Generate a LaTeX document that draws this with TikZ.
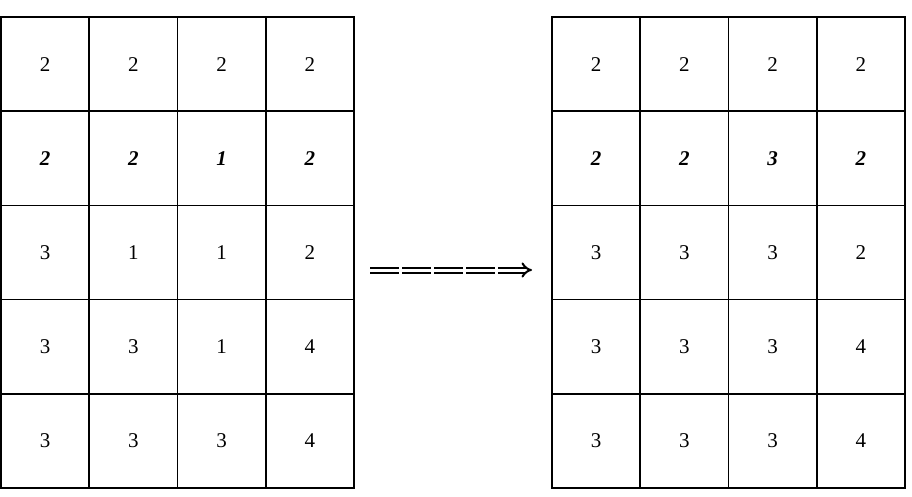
\documentclass[tikz,border=0pt]{standalone}
\usepackage{fontspec}
\setmainfont{Liberation Serif}
\usetikzlibrary{arrows.meta}
\begin{document}
\begin{tikzpicture}[x=1pt,y=-1pt,
  cell/.style={draw=black, line width=1.7pt, minimum width=88.25pt, minimum height=94.2pt,
    inner sep=0pt, font=\fontsize{21}{24}\selectfont, anchor=center},
  emrow/.style={font=\fontsize{21}{24}\selectfont\bfseries\itshape},
  bigarrow/.style={double=white, double distance=3pt, line width=2pt, draw=black,
    dash pattern=on 29pt off 3pt, -{Implies[length=10pt,width=18pt]}}]
\useasboundingbox (0,0) rectangle (912,497);
% left grid
\foreach \r/\vals in {0/{2,2,2,2},2/{3,1,1,2},3/{3,3,1,4},4/{3,3,3,4}}{
  \foreach \v [count=\c from 0] in \vals {
    \node[cell] (L\r\c) at ({1+88.25*\c+44.125},{17+94.2*\r+47.1}) {\v};
  }
}
\foreach \v [count=\c from 0] in {2,2,1,2}{
  \node[cell,emrow] (L1\c) at ({1+88.25*\c+44.125},{17+94.2+47.1}) {\v};
}
% right grid
\foreach \r/\vals in {0/{2,2,2,2},2/{3,3,3,2},3/{3,3,3,4},4/{3,3,3,4}}{
  \foreach \v [count=\c from 0] in \vals {
    \node[cell] (R\r\c) at ({552+88.25*\c+44.125},{17+94.2*\r+47.1}) {\v};
  }
}
\foreach \v [count=\c from 0] in {2,2,3,2}{
  \node[cell,emrow] (R1\c) at ({552+88.25*\c+44.125},{17+94.2+47.1}) {\v};
}
% arrow
\coordinate (as) at (370,270);
\coordinate (ae) at (532,270);
\draw[bigarrow] (as) -- (ae);
\end{tikzpicture}
\end{document}
